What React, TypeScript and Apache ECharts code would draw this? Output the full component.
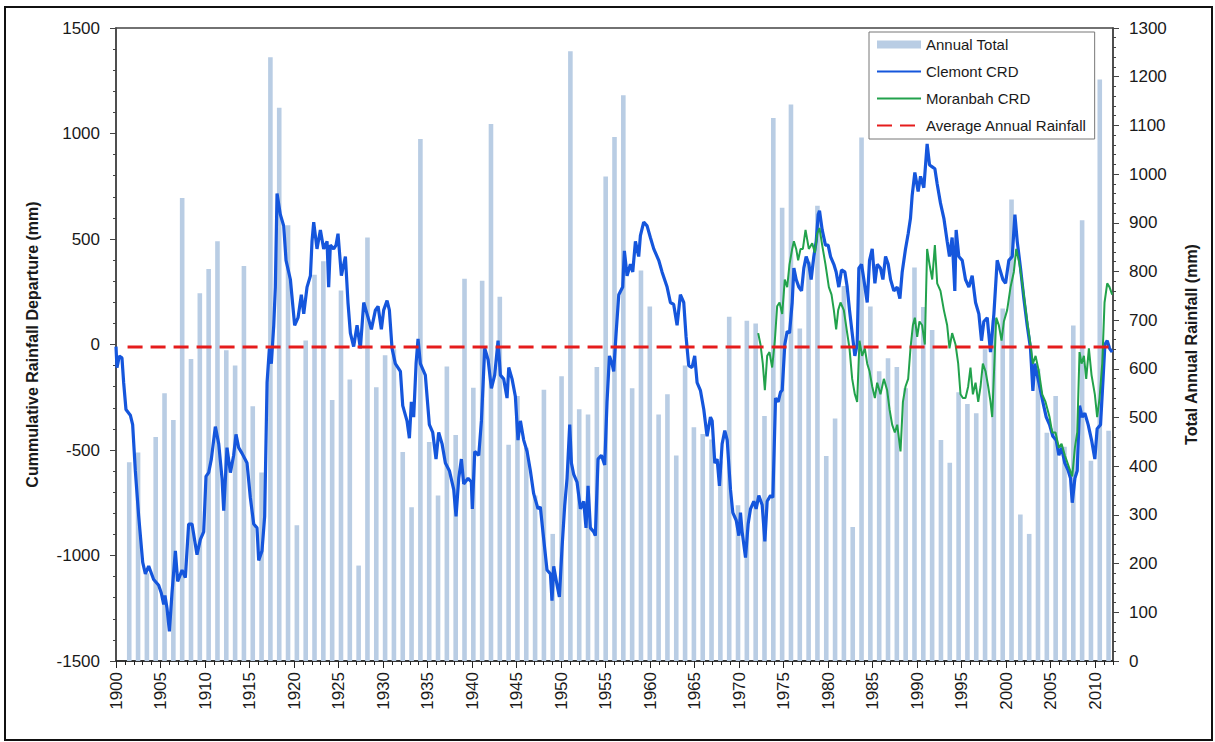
import React, { useEffect, useRef } from "react";
import * as echarts from "echarts";

// Annual rainfall totals (mm), one per year starting 1900
const FIRST_YEAR = 1900;
const ANNUAL_TOTAL: number[] = [
  408, 428, 180, 460, 550, 495, 951, 620, 755, 805,
  862, 638, 607, 811, 523, 387, 1240, 1136, 895, 279,
  658, 793, 821, 536, 761, 578, 196, 870, 562, 628,
  640, 429, 316, 1072, 450, 340, 605, 464, 785, 561,
  781, 1103, 748, 444, 544, 438, 340, 557, 261, 585,
  1252, 517, 506, 604, 995, 1076, 1162, 560, 802, 728,
  506, 548, 422, 607, 480, 466, 455, 410, 707, 320,
  699, 693, 503, 1115, 931, 1143, 683, 820, 935, 421,
  498, 770, 275, 1075, 728, 595, 622, 604, 560, 808,
  727, 680, 454, 407, 552, 528, 509, 640, 700, 724,
  948, 301, 261, 600, 469, 544, 440, 689, 905, 411, 1194, 473,
];

// Clermont cumulative rainfall departure [year, mm]
const CLEMONT_CRD: [number, number][] = [
  [1900.0, -10], [1900.11, -110], [1900.37, -55], [1900.67, -63], [1900.86, -181], [1901.12, -308], [1901.61, -335], [1901.87, -380],
  [1902.17, -598], [1902.55, -815], [1903.0, -1033], [1903.3, -1087], [1903.67, -1050], [1904.23, -1114], [1904.79, -1141], [1905.09, -1178],
  [1905.36, -1232], [1905.5, -1190], [1905.73, -1250], [1906.0, -1360], [1906.29, -1178], [1906.67, -978], [1906.93, -1123], [1907.42, -1069],
  [1907.79, -1105], [1908.16, -851], [1908.54, -851], [1909.1, -996], [1909.48, -924], [1909.85, -888], [1910.11, -625], [1910.41, -607],
  [1910.71, -543], [1911.16, -389], [1911.54, -471], [1911.91, -634], [1912.1, -788], [1912.47, -489], [1912.85, -607], [1913.22, -525],
  [1913.48, -426], [1913.78, -489], [1914.16, -516], [1914.72, -562], [1915.09, -725], [1915.47, -851], [1915.84, -869], [1916.03, -1023],
  [1916.4, -978], [1916.7, -815], [1916.97, -181], [1917.23, -18], [1917.45, -91], [1917.72, 90], [1917.9, 272], [1918.09, 716],
  [1918.46, 616], [1918.84, 562], [1919.1, 399], [1919.59, 308], [1920.07, 91], [1920.45, 127], [1920.82, 236], [1921.09, 145],
  [1921.46, 272], [1921.84, 326], [1922.02, 489], [1922.21, 580], [1922.58, 453], [1922.96, 543], [1923.33, 453], [1923.71, 489],
  [1923.89, 272], [1924.08, 471], [1924.45, 453], [1924.72, 471], [1924.94, 525], [1925.32, 326], [1925.77, 417], [1926.06, 199],
  [1926.33, 54], [1926.7, -10], [1927.08, 91], [1927.45, -18], [1927.83, 199], [1928.2, 145], [1928.69, 72], [1929.14, 163],
  [1929.44, 181], [1929.81, 72], [1930.07, 163], [1930.45, 208], [1930.71, 163], [1931.01, -18], [1931.38, -91], [1931.95, -127],
  [1932.21, -290], [1932.69, -362], [1932.96, -444], [1933.18, -272], [1933.44, -344], [1933.71, -91], [1933.93, 27], [1934.19, -91],
  [1934.75, -145], [1935.2, -380], [1935.58, -417], [1935.95, -543], [1936.25, -417], [1936.63, -471], [1937.0, -562], [1937.45, -598],
  [1937.94, -688], [1938.2, -815], [1938.5, -634], [1938.8, -543], [1939.06, -661], [1939.55, -634], [1939.92, -652], [1940.03, -779],
  [1940.3, -507], [1940.75, -525], [1941.05, -362], [1941.42, -18], [1941.8, -72], [1942.17, -208], [1942.54, -145], [1942.92, 18],
  [1943.18, -145], [1943.55, -163], [1943.93, -254], [1944.12, -109], [1944.49, -163], [1944.86, -245], [1945.16, -453], [1945.43, -362],
  [1945.8, -453], [1946.18, -507], [1946.55, -598], [1946.92, -707], [1947.41, -779], [1947.67, -770], [1948.05, -924], [1948.42, -1069],
  [1948.8, -1087], [1948.98, -1214], [1949.17, -1051], [1949.55, -1141], [1949.81, -1196], [1950.11, -960], [1950.41, -761], [1950.67, -634],
  [1950.97, -380], [1951.16, -562], [1951.42, -616], [1951.79, -652], [1952.17, -779], [1952.54, -743], [1952.8, -869], [1953.03, -670],
  [1953.29, -869], [1953.67, -888], [1953.85, -906], [1954.15, -543], [1954.53, -525], [1954.9, -571], [1955.16, -272], [1955.43, -54],
  [1955.73, -91], [1955.91, -127], [1956.18, 54], [1956.48, 236], [1956.92, 272], [1957.11, 444], [1957.41, 326], [1957.79, 380],
  [1958.05, 344], [1958.35, 489], [1958.72, 417], [1958.91, 516], [1959.28, 580], [1959.66, 562], [1960.03, 507], [1960.41, 453],
  [1960.97, 399], [1961.34, 344], [1961.91, 272], [1962.28, 199], [1962.65, 190], [1963.03, 91], [1963.4, 236], [1963.78, 199],
  [1964.04, 36], [1964.34, -100], [1964.71, -109], [1965.01, -54], [1965.28, -181], [1965.65, -217], [1966.03, -308], [1966.4, -435],
  [1966.78, -344], [1966.97, -362], [1967.27, -562], [1967.53, -543], [1967.79, -670], [1968.09, -471], [1968.39, -408], [1968.66, -453],
  [1969.03, -688], [1969.29, -797], [1969.67, -833], [1969.97, -906], [1970.15, -797], [1970.34, -888], [1970.72, -1010], [1971.01, -851],
  [1971.28, -779], [1971.65, -743], [1971.91, -779], [1972.21, -716], [1972.59, -761], [1972.89, -933], [1973.15, -743], [1973.52, -716],
  [1973.79, -725], [1974.09, -254], [1974.39, -272], [1974.65, -226], [1974.84, -217], [1975.13, 0], [1975.4, 63], [1975.66, 54],
  [1975.96, 199], [1976.15, 362], [1976.41, 308], [1976.71, 272], [1977.01, 254], [1977.27, 362], [1977.53, 417], [1977.83, 380],
  [1978.09, 308], [1978.39, 417], [1978.66, 489], [1978.88, 616], [1979.03, 634], [1979.33, 543], [1979.7, 471], [1980.0, 471],
  [1980.27, 417], [1980.64, 380], [1980.9, 344], [1981.2, 272], [1981.5, 353], [1981.88, 344], [1982.14, 272], [1982.4, 163],
  [1982.7, 54], [1983.0, -54], [1983.26, 0], [1983.45, 362], [1983.75, 380], [1984.01, 308], [1984.39, 199], [1984.65, 399],
  [1984.95, 453], [1985.25, 290], [1985.51, 380], [1985.88, 362], [1986.15, 308], [1986.45, 417], [1986.75, 380], [1987.01, 308],
  [1987.38, 254], [1987.76, 272], [1988.06, 217], [1988.32, 344], [1988.69, 453], [1988.99, 525], [1989.25, 598], [1989.44, 707],
  [1989.74, 815], [1990.11, 725], [1990.38, 797], [1990.75, 743], [1991.12, 951], [1991.39, 851], [1991.69, 842], [1991.99, 833],
  [1992.25, 761], [1992.62, 670], [1993.0, 598], [1993.37, 489], [1993.63, 417], [1993.93, 507], [1994.23, 254], [1994.38, 543],
  [1994.68, 417], [1995.06, 399], [1995.43, 308], [1995.81, 272], [1996.18, 326], [1996.56, 199], [1996.93, 145], [1997.23, 18],
  [1997.49, 109], [1997.87, 127], [1998.24, -36], [1998.62, 145], [1998.99, 399], [1999.25, 362], [1999.63, 308], [1999.93, 290],
  [2000.3, 399], [2000.68, 417], [2000.98, 616], [2001.24, 489], [2001.61, 362], [2001.99, 217], [2002.36, 91], [2002.73, -18],
  [2003.0, -220], [2003.22, -91], [2003.67, -181], [2004.12, -272], [2004.5, -344], [2004.87, -380], [2005.24, -435], [2005.62, -453],
  [2005.92, -525], [2006.22, -489], [2006.59, -562], [2006.97, -598], [2007.23, -634], [2007.42, -750], [2007.72, -634], [2007.98, -598],
  [2008.24, -290], [2008.54, -344], [2008.84, -326], [2009.21, -380], [2009.59, -453], [2009.96, -543], [2010.22, -399], [2010.6, -380],
  [2010.86, -181], [2011.09, 0], [2011.35, 18], [2011.61, -18], [2011.91, -36],
];

// Moranbah cumulative rainfall departure [year, mm]
const MORANBAH_CRD: [number, number][] = [
  [1972.14, 54], [1972.4, 0], [1972.66, -91], [1972.89, -217], [1973.15, -54], [1973.41, -36], [1973.71, -109], [1974.01, 18],
  [1974.27, 181], [1974.54, 199], [1974.84, 145], [1975.13, 308], [1975.4, 272], [1975.66, 380], [1975.96, 453], [1976.15, 489],
  [1976.41, 453], [1976.63, 399], [1976.9, 453], [1977.16, 453], [1977.46, 543], [1977.83, 453], [1978.21, 480], [1978.51, 435],
  [1978.77, 525], [1979.03, 552], [1979.33, 471], [1979.7, 380], [1980.08, 272], [1980.38, 236], [1980.64, 163], [1980.9, 72],
  [1981.13, 163], [1981.39, 199], [1981.76, 163], [1982.14, 54], [1982.4, -18], [1982.7, -163], [1983.0, -236], [1983.26, -272],
  [1983.52, 18], [1983.82, -54], [1984.12, -18], [1984.39, -91], [1984.65, -127], [1984.95, -199], [1985.25, -254], [1985.51, -181],
  [1985.88, -236], [1986.26, -163], [1986.63, -217], [1986.9, -308], [1987.19, -380], [1987.49, -417], [1987.76, -380], [1988.13, -507],
  [1988.4, -272], [1988.69, -199], [1988.99, -163], [1989.25, -18], [1989.52, 91], [1989.74, 127], [1990.0, 36], [1990.26, 109],
  [1990.56, 91], [1990.86, 0], [1991.12, 453], [1991.39, 380], [1991.69, 308], [1991.99, 471], [1992.25, 290], [1992.62, 254],
  [1993.0, 163], [1993.37, 91], [1993.63, -18], [1993.93, 54], [1994.31, 0], [1994.61, -91], [1994.87, -236], [1995.13, -254],
  [1995.43, -254], [1995.73, -199], [1995.99, -109], [1996.26, -236], [1996.56, -181], [1996.86, -272], [1997.12, -199], [1997.38, -91],
  [1997.68, -127], [1997.98, -199], [1998.24, -272], [1998.43, -344], [1998.62, -145], [1998.88, 127], [1999.18, 91], [1999.48, 18],
  [1999.74, 109], [2000.11, 163], [2000.49, 272], [2000.86, 344], [2001.13, 453], [2001.5, 380], [2001.87, 272], [2002.36, 109],
  [2002.73, 0], [2003.0, -91], [2003.3, -54], [2003.67, -127], [2004.05, -236], [2004.42, -272], [2004.87, -344], [2005.17, -417],
  [2005.54, -417], [2005.92, -489], [2006.22, -471], [2006.59, -525], [2007.04, -580], [2007.42, -625], [2007.72, -489], [2007.98, -417],
  [2008.24, -36], [2008.47, -91], [2008.73, -54], [2008.99, -163], [2009.29, -18], [2009.59, -145], [2009.96, -236], [2010.22, -344],
  [2010.49, -254], [2010.79, -91], [2011.05, 199], [2011.35, 290], [2011.61, 272], [2011.91, 236],
];

// Average annual rainfall (mm, right axis) and the span it is drawn over
const AVERAGE_ANNUAL = 645;
const AVERAGE_SPAN = [1901.3, 2012];

const X_MIN = 1900;
const X_MAX = 2012;
const LEFT_TICKS = { min: -1500, max: 1500, interval: 500 };
const RIGHT_TICKS = { min: 0, max: 1300, interval: 100 };

const FONT = "'Liberation Sans', Arial, sans-serif";
const TEXT = "#1a1a1a";
const plain = (v: number) => String(v);

export default function App() {
  const ref = useRef<HTMLDivElement>(null);

  useEffect(() => {
    if (!ref.current) return;
    const chart = echarts.init(ref.current, undefined, { renderer: "svg" });

    const barCats = [String(FIRST_YEAR - 1), ...ANNUAL_TOTAL.map((_, i) => String(FIRST_YEAR + i))];
    const barData = [null, ...ANNUAL_TOTAL];
    const noSymbol = { opacity: 0 };

    const option: any = {
      animation: false,
      backgroundColor: "#ffffff",
      textStyle: { fontFamily: FONT },
      grid: {
        left: 116,
        right: 102,
        top: 28,
        bottom: 81,
        show: true,
        borderColor: "#444",
        borderWidth: 1.5,
      },
      legend: {
        orient: "vertical",
        left: 869,
        top: 32,
        itemWidth: 44,
        itemHeight: 8,
        itemGap: 12,
        padding: [5, 8, 6, 7],
        backgroundColor: "#ffffff",
        borderColor: "#777",
        borderWidth: 1,
        textStyle: { fontSize: 15, color: TEXT, fontFamily: FONT },
        data: [
          { name: "Annual Total", icon: "rect" },
          { name: "Clemont CRD", itemStyle: noSymbol },
          { name: "Moranbah CRD", itemStyle: noSymbol },
          { name: "Average Annual Rainfall", itemStyle: noSymbol },
        ],
      },
      xAxis: [
        {
          type: "value",
          min: X_MIN,
          max: X_MAX,
          interval: 1,
          position: "bottom",
          axisLine: { show: true, onZero: false, lineStyle: { color: "#222", width: 1.5 } },
          axisTick: { show: true, length: 4, lineStyle: { color: "#222" } },
          axisLabel: { show: false },
          splitLine: { show: false },
        },
        {
          type: "category",
          data: barCats,
          boundaryGap: true,
          position: "top",
          show: false,
        },
        {
          type: "value",
          min: X_MIN,
          max: X_MAX,
          interval: 5,
          position: "bottom",
          axisLine: { show: false, onZero: false },
          axisTick: { show: true, length: 7, lineStyle: { color: "#222" } },
          axisLabel: {
            rotate: 90,
            margin: 11,
            fontSize: 17,
            color: TEXT,
            fontFamily: FONT,
            showMaxLabel: false,
            formatter: plain,
          },
          splitLine: { show: false },
        },
      ],
      yAxis: [
        {
          type: "value",
          ...LEFT_TICKS,
          position: "left",
          name: "Cummulative Rainfall Departure (mm)",
          nameLocation: "middle",
          nameRotate: 90,
          nameGap: 76,
          nameTextStyle: { fontWeight: "bold", fontSize: 16, color: TEXT, fontFamily: FONT },
          axisLine: { show: true, lineStyle: { color: "#444", width: 1.5 } },
          axisTick: { show: true, length: 6, lineStyle: { color: "#444" } },
          minorTick: { show: true, splitNumber: 5, length: 3, lineStyle: { color: "#444" } },
          axisLabel: { fontSize: 17, margin: 16, color: TEXT, fontFamily: FONT, formatter: plain },
          splitLine: { show: false },
        },
        {
          type: "value",
          ...RIGHT_TICKS,
          position: "right",
          name: "Total Annual Rainfall (mm)",
          nameLocation: "middle",
          nameRotate: 90,
          nameGap: 70,
          nameTextStyle: { fontWeight: "bold", fontSize: 16, color: TEXT, fontFamily: FONT },
          axisLine: { show: true, lineStyle: { color: "#444", width: 1.5 } },
          axisTick: { show: true, length: 6, lineStyle: { color: "#444" } },
          minorTick: { show: true, splitNumber: 5, length: 3, lineStyle: { color: "#444" } },
          axisLabel: { fontSize: 17, margin: 16, color: TEXT, fontFamily: FONT, formatter: plain },
          splitLine: { show: false },
        },
      ],
      series: [
        {
          name: "Annual Total",
          type: "bar",
          xAxisIndex: 1,
          yAxisIndex: 1,
          data: barData,
          barWidth: 4.6,
          itemStyle: { color: "#b9cde4" },
          z: 1,
        },
        {
          name: "Clemont CRD",
          type: "line",
          xAxisIndex: 0,
          yAxisIndex: 0,
          data: CLEMONT_CRD,
          symbol: "none",
          showSymbol: false,
          lineStyle: { color: "#1556dc", width: 3.2 },
          itemStyle: { color: "#1556dc" },
          z: 3,
        },
        {
          name: "Moranbah CRD",
          type: "line",
          xAxisIndex: 0,
          yAxisIndex: 0,
          data: MORANBAH_CRD,
          symbol: "none",
          showSymbol: false,
          lineStyle: { color: "#22a24c", width: 2 },
          itemStyle: { color: "#22a24c" },
          z: 4,
        },
        {
          name: "Average Annual Rainfall",
          type: "line",
          xAxisIndex: 0,
          yAxisIndex: 1,
          data: AVERAGE_SPAN.map((x) => [x, AVERAGE_ANNUAL]),
          symbol: "none",
          showSymbol: false,
          lineStyle: { color: "#e51c1c", width: 3, type: [15, 8] },
          itemStyle: { color: "#e51c1c" },
          z: 5,
        },
      ],
      graphic: [
        {
          type: "rect",
          shape: { x: 5, y: 7, width: 1207, height: 733 },
          style: { fill: "none", stroke: "#111", lineWidth: 2 },
          silent: true,
          z: -10,
        },
      ],
    };

    chart.setOption(option);
    return () => chart.dispose();
  }, []);

  return (
    <div
      ref={ref}
      style={{ position: "absolute", left: 0, top: 0, width: 1215, height: 742, background: "#fff" }}
    />
  );
}
